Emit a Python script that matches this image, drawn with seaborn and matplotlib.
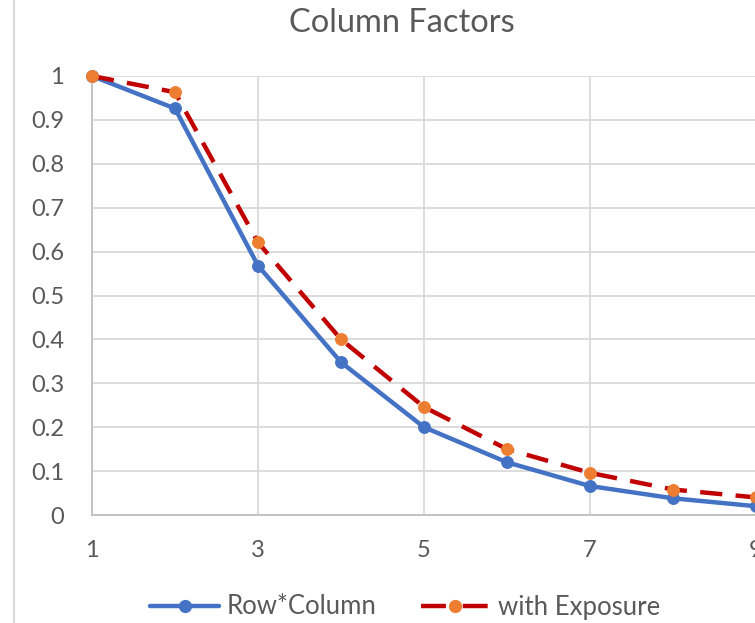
import matplotlib
matplotlib.use("Agg")
import matplotlib.pyplot as plt
import seaborn as sns
import pandas as pd
from matplotlib.lines import Line2D

# Data
periods = [1, 2, 3, 4, 5, 6, 7, 8, 9]
row_column = [1.0, 0.926, 0.568, 0.348, 0.200, 0.120, 0.066, 0.038, 0.020]
with_exposure = [1.0, 0.963, 0.621, 0.400, 0.246, 0.150, 0.096, 0.058, 0.040]
x_ticks = [1, 3, 5, 7, 9]
y_ticks = [0, 0.1, 0.2, 0.3, 0.4, 0.5, 0.6, 0.7, 0.8, 0.9, 1]
y_tick_labels = ["0", "0.1", "0.2", "0.3", "0.4", "0.5", "0.6", "0.7", "0.8", "0.9", "1"]
title = "Column Factors"
series_names = ["Row*Column", "with Exposure"]

sns.set_theme(style="white")
plt.rcParams["font.family"] = ["Lato", "DejaVu Sans"]

BLUE = "#4472C4"
RED = "#C00000"
ORANGE = "#ED7D31"
GRID = "#D9D9D9"
TEXT = "#595959"

df = pd.DataFrame({"x": periods, "rc": row_column, "we": with_exposure})

fig = plt.figure(figsize=(7.55, 6.23), dpi=100)
ax = fig.add_axes([92 / 755, 108 / 623, 747 / 755, 439 / 623])

sns.lineplot(data=df, x="x", y="rc", ax=ax, color=BLUE, linewidth=3.2,
             marker="o", markersize=8.5, markeredgecolor=BLUE, markerfacecolor=BLUE,
             zorder=3)
sns.lineplot(data=df, x="x", y="we", ax=ax, color=RED, linewidth=3.2,
             linestyle=(0, (5, 3)), marker="o", markersize=8.5,
             markeredgecolor=ORANGE, markerfacecolor=ORANGE, zorder=4)

ax.set_xlim(1, 10)
ax.set_ylim(0, 1)
ax.set_xticks(x_ticks)
ax.set_xticklabels([str(t) for t in x_ticks])
ax.set_yticks(y_ticks)
ax.set_yticklabels(y_tick_labels)
ax.set_xlabel("")
ax.set_ylabel("")
ax.grid(True, color=GRID, linewidth=1.3)
ax.set_axisbelow(True)
for side in ["top", "right"]:
    ax.spines[side].set_visible(False)
for side in ["left", "bottom"]:
    ax.spines[side].set_color("#BFBFBF")
    ax.spines[side].set_linewidth(1.3)
ax.tick_params(axis="both", length=0, labelsize=17, labelcolor=TEXT)
ax.tick_params(axis="y", pad=20)
ax.tick_params(axis="x", pad=18)
for m in ax.lines:
    m.set_clip_on(False)

fig.text(402 / 755, 1 - 23 / 623, title, ha="center", va="center",
         fontsize=23.5, color=TEXT)

# chart border line at left
fig.add_artist(Line2D([14 / 755, 14 / 755], [0, 1], color="#D9D9D9",
                      linewidth=1.5, transform=fig.transFigure))

handles = [
    Line2D([], [], color=BLUE, linewidth=3.2, marker="o", markersize=8.5),
    Line2D([], [], color=RED, linewidth=3.2, linestyle=(0, (5.6, 3.8)), marker="o",
           markersize=8.5, markerfacecolor=ORANGE, markeredgecolor=ORANGE),
]
leg = fig.legend(handles, series_names, loc="center", bbox_to_anchor=(405 / 755, 16 / 623),
                 ncol=2, frameon=False, fontsize=18.5, handlelength=2.7,
                 handletextpad=0.3, columnspacing=1.7)
for t in leg.get_texts():
    t.set_color(TEXT)

fig.savefig("out.png", dpi=100)
